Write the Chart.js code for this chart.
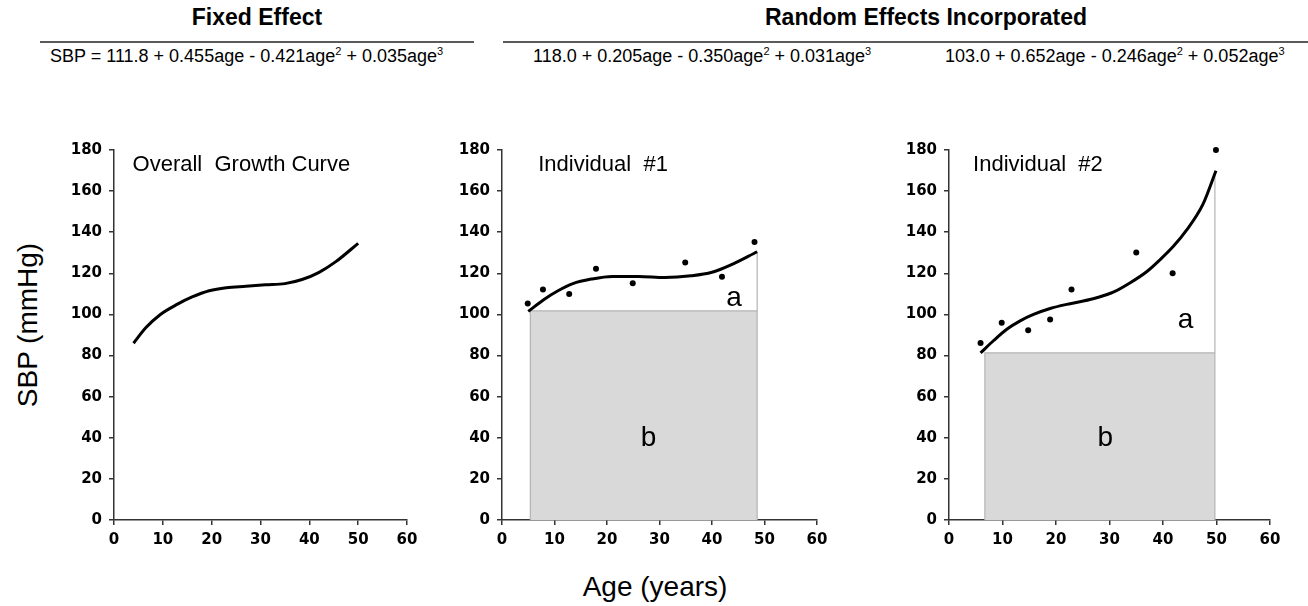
<!DOCTYPE html>
<html>
<head>
<meta charset="utf-8">
<script src="https://cdn.jsdelivr.net/npm/chart.js@4.4.0/dist/chart.umd.min.js"></script>
<style>
body { margin:0; width:1308px; height:606px; background:#fff; position:relative; overflow:hidden;
       font-family:"Liberation Sans", Arial, sans-serif; color:#000; }
.t { position:absolute; white-space:pre; }
.head { font-weight:bold; font-size:23px; line-height:23px; text-align:center; }
.eq { font-size:18px; line-height:18px; }
.eq sup { font-size:11px; line-height:0; vertical-align:7px; }
.rule { position:absolute; height:2px; background:#5a5a5a; top:41px; }
.ttl { font-size:28px; line-height:28px; text-align:center; }
canvas { position:absolute; }
</style>
</head>
<body>

<div class="t head" style="left:157px;top:6px;width:200px;">Fixed Effect</div>
<div class="t head" style="left:765px;top:6px;width:300px;">Random Effects Incorporated</div>
<div class="rule" style="left:40px;width:434px;"></div>
<div class="rule" style="left:503px;width:805px;"></div>
<div class="t eq" style="left:50px;top:47px;">SBP = 111.8 + 0.455age - 0.421age<sup>2</sup> + 0.035age<sup>3</sup></div>
<div class="t eq" style="left:533px;top:47px;">118.0 + 0.205age - 0.350age<sup>2</sup> + 0.031age<sup>3</sup></div>
<div class="t eq" style="left:945px;top:47px;">103.0 + 0.652age - 0.246age<sup>2</sup> + 0.052age<sup>3</sup></div>

<div class="t ttl" style="left:-72px;top:311px;width:200px;transform:rotate(-90deg);">SBP (mmHg)</div>
<div class="t ttl" style="left:555px;top:573px;width:200px;">Age (years)</div>

<canvas id="fixedChart" width="373" height="426" style="left:54px;top:134px;"></canvas>
<canvas id="ind1Chart" width="395" height="426" style="left:442px;top:134px;"></canvas>
<canvas id="ind2Chart" width="401" height="426" style="left:889px;top:134px;"></canvas>

<script>
// axes
const ageMin = 0, ageMax = 60, ageStep = 10;
const sbpMin = 0, sbpMax = 180, sbpStep = 20;

// overall growth curve (fixed effect)
const fixedAge = [4, 6.5, 9.5, 13, 16, 19.5, 23, 27, 31, 35, 38.5, 42, 45.5, 50];
const fixedSbp = [86, 93.5, 100, 105, 108.5, 111.5, 113, 113.7, 114.4, 115, 117, 120.5, 125.8, 134.6];

// individual #1
const ind1Age = [5, 8, 10.5, 13.5, 17, 21, 26, 31, 36, 40, 43.5, 48.6];
const ind1Fit = [101.5, 107.3, 111.3, 115, 117.2, 118.5, 118.5, 118, 118.8, 120.5, 124, 130.5];
const ind1ObsAge = [4.9, 7.8, 12.8, 17.9, 24.9, 34.9, 41.9, 48.1];
const ind1Obs = [105.3, 112.1, 110, 122.2, 115.2, 125.3, 118.3, 135.2];
const ind1Area = [5.4, 48.6, 101.7, 130.5]; // age from, age to, base SBP, end SBP

// individual #2
const ind2Age = [5.9, 8.3, 10.8, 13.3, 15.8, 18.9, 22, 25.1, 27.6, 30.7, 33.8, 37, 39.4, 41.9, 44.4, 47.5, 49.9];
const ind2Fit = [81.3, 87.2, 92.8, 96.9, 100, 102.9, 104.9, 106.5, 108.1, 110.8, 115.3, 120.9, 126.5, 133, 141, 153.8, 169.9];
const ind2ObsAge = [5.9, 9.85, 14.8, 18.9, 22.9, 35, 41.8, 49.9];
const ind2Obs = [86.1, 96, 92.3, 97.5, 112.1, 130.1, 120.1, 180];
const ind2Area = [6.7, 49.7, 81.3, 169.9];

const FONT = '"Liberation Sans", Arial, sans-serif';
const TICK_FONT = { family: '"DejaVu Sans", sans-serif', size: 15, weight: 'bold' };
Chart.defaults.font.family = FONT;
Chart.defaults.color = '#000';

const notesPlugin = {
    id: 'notes',
    afterDatasetsDraw(chart, args, opts) {
        const { ctx, scales: { x, y } } = chart;
        (opts.items || []).forEach(n => {
            ctx.save();
            ctx.font = n.size + 'px ' + FONT;
            ctx.fillStyle = '#000';
            ctx.textAlign = n.align || 'left';
            ctx.textBaseline = 'alphabetic';
            ctx.fillText(n.text, x.getPixelForValue(n.x), y.getPixelForValue(n.y));
            ctx.restore();
        });
    }
};

function pairs(xs, ys) {
    return xs.map((v, i) => ({ x: v, y: ys[i] }));
}

function makePanel(id, ages, fit, obsAge, obs, area, notes) {
    const datasets = [];
    if (area) {
        datasets.push({
            data: [
                { x: area[0], y: 0 }, { x: area[0], y: area[2] }, { x: area[1], y: area[2] },
                { x: area[1], y: area[3] }, { x: area[1], y: 0 }
            ],
            showLine: true,
            borderColor: '#b4b4b4',
            borderWidth: 1.2,
            backgroundColor: '#d9d9d9',
            fill: 'origin',
            pointRadius: 0,
            tension: 0,
            order: 3
        });
    }
    datasets.push({
        data: pairs(ages, fit),
        showLine: true,
        borderColor: '#000',
        borderWidth: 3,
        pointRadius: 0,
        cubicInterpolationMode: 'monotone',
        fill: false,
        order: 2
    });
    if (obs) {
        datasets.push({
            data: pairs(obsAge, obs),
            pointRadius: 3,
            pointBackgroundColor: '#000',
            pointBorderWidth: 0,
            clip: false,
            order: 1
        });
    }
    new Chart(document.getElementById(id), {
        type: 'scatter',
        data: { datasets },
        options: {
            responsive: false,
            animation: false,
            events: [],
            layout: { padding: { top: 12, right: 20, left: 0, bottom: 0 } },
            plugins: { legend: { display: false }, tooltip: { enabled: false }, notes: { items: notes } },
            scales: {
                x: {
                    type: 'linear', min: ageMin, max: ageMax,
                    afterFit: s => { s.height = 40; },
                    ticks: { stepSize: ageStep, padding: 6, maxRotation: 0, font: TICK_FONT, color: '#000' },
                    grid: { drawOnChartArea: false, drawTicks: true, tickLength: 5, color: '#333', lineWidth: 1.5 },
                    border: { display: true, color: '#333', width: 1.5 }
                },
                y: {
                    min: sbpMin, max: sbpMax,
                    afterFit: s => { s.width = 60; },
                    ticks: { stepSize: sbpStep, padding: 7, font: TICK_FONT, color: '#000' },
                    grid: { drawOnChartArea: false, drawTicks: true, tickLength: 5, color: '#333', lineWidth: 1.5 },
                    border: { display: true, color: '#333', width: 1.5 }
                }
            }
        },
        plugins: [notesPlugin]
    });
}

makePanel('fixedChart', fixedAge, fixedSbp, null, null, null, [
    { text: 'Overall  Growth Curve', x: 3.8, y: 169.7, size: 22 }
]);
makePanel('ind1Chart', ind1Age, ind1Fit, ind1ObsAge, ind1Obs, ind1Area, [
    { text: 'Individual  #1', x: 6.9, y: 169.7, size: 22 },
    { text: 'a', x: 44.2, y: 104.2, size: 28, align: 'center' },
    { text: 'b', x: 27.9, y: 36, size: 28, align: 'center' }
]);
makePanel('ind2Chart', ind2Age, ind2Fit, ind2ObsAge, ind2Obs, ind2Area, [
    { text: 'Individual  #2', x: 4.5, y: 169.7, size: 22 },
    { text: 'a', x: 44.2, y: 93.6, size: 28, align: 'center' },
    { text: 'b', x: 29.2, y: 36, size: 28, align: 'center' }
]);
</script>
</body>
</html>
